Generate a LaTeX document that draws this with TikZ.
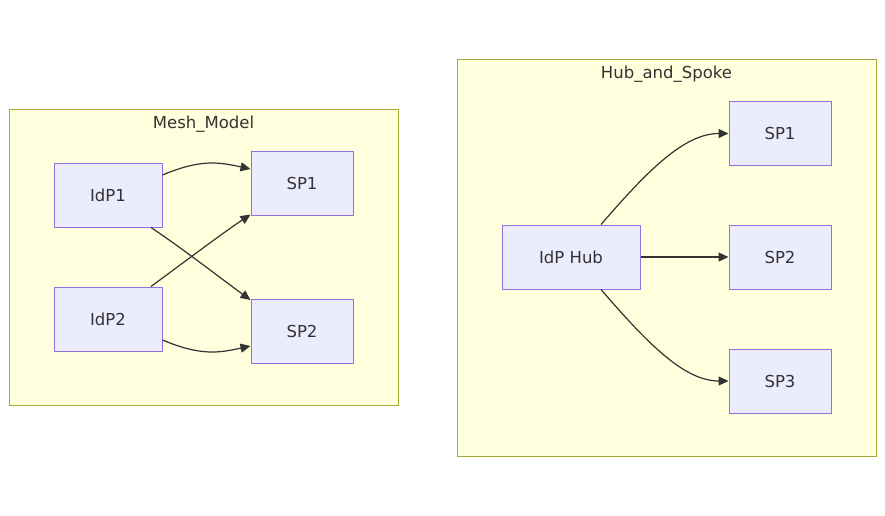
\documentclass[tikz,border=0pt]{standalone}
\usepackage{fontspec}
\setmainfont{DejaVu Sans}
\usetikzlibrary{arrows.meta}
\definecolor{clfill}{HTML}{FFFFDE}
\definecolor{cldraw}{HTML}{AAAA33}
\definecolor{ndfill}{HTML}{ECECFF}
\definecolor{nddraw}{HTML}{9370DB}
\definecolor{ink}{HTML}{333333}
\begin{document}
\begin{tikzpicture}[x=1pt,y=-1pt,
  cluster/.style={draw=cldraw,fill=clfill,line width=1pt},
  box/.style={draw=nddraw,fill=ndfill,line width=1pt,minimum height=64pt,inner sep=0pt,text=ink,font=\fontsize{16.5}{19}\selectfont},
  title/.style={text=ink,font=\fontsize{16.5}{19}\selectfont,inner sep=0pt},
  link/.style={draw=ink,line width=1.2pt,-{Triangle[length=10pt,width=9pt]}}]
\useasboundingbox (0,0) rectangle (885,515);
% clusters
\draw[cluster] (9,109) rectangle (398,405);
\node[title] (tmesh) at (203.5,124) {Mesh\_Model};
\draw[cluster] (457,59) rectangle (876,456);
\node[title] (thub) at (666.5,74) {Hub\_and\_Spoke};
% mesh nodes
\node[box,minimum width=108pt] (i1) at (108,195) {IdP1};
\node[box,minimum width=108pt] (i2) at (108,319) {IdP2};
\node[box,minimum width=102pt] (s1) at (302,183.5) {SP1};
\node[box,minimum width=102pt] (s2) at (302,331) {SP2};
% hub nodes
\node[box,minimum width=138pt] (hub) at (571,257) {IdP Hub};
\node[box,minimum width=102pt] (h1) at (780,133.5) {SP1};
\node[box,minimum width=102pt] (h2) at (780,257) {SP2};
\node[box,minimum width=102pt] (h3) at (780,381) {SP3};
% mesh edges
\draw[link] ([yshift=20pt]i1.east) .. controls +(38,-16) and +(-32,-7) .. ([yshift=14.5pt]s1.west);
\draw[link] ([xshift=43pt]i1.south) .. controls +(30,20) and +(-30,-22) .. ([yshift=31pt]s2.west);
\draw[link] ([xshift=43pt]i2.north) .. controls +(30,-22) and +(-30,20) .. ([yshift=-31pt]s1.west);
\draw[link] ([yshift=-21pt]i2.east) .. controls +(38,16) and +(-32,7) .. ([yshift=-15pt]s2.west);
% hub edges
\draw[link] ([xshift=30pt]hub.north) .. controls +(45,-52) and +(-45,0) .. (h1.west);
\draw[link] (hub.east) -- (h2.west);
\draw[link] ([xshift=30pt]hub.south) .. controls +(45,52) and +(-45,0) .. (h3.west);
\end{tikzpicture}
\end{document}
